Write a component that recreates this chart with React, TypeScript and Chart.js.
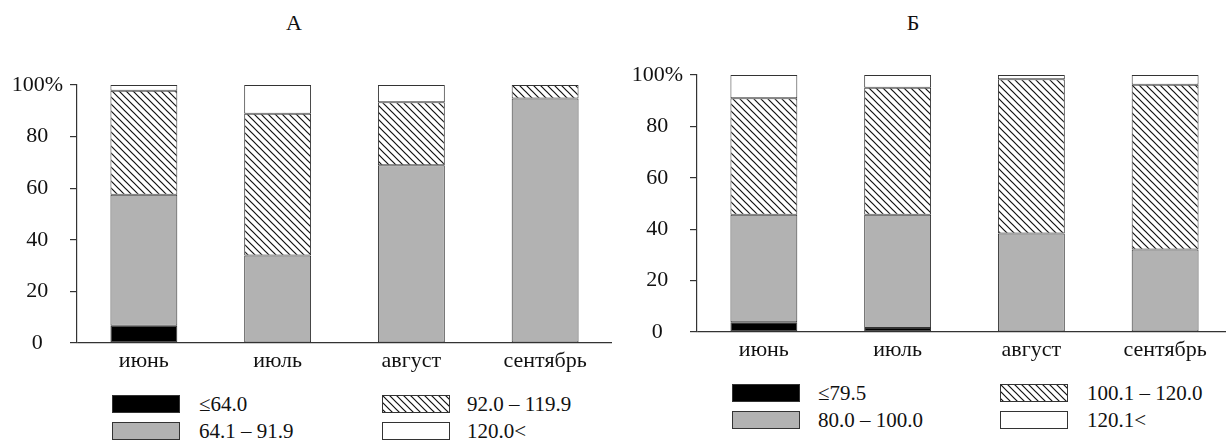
import React, { useEffect, useRef } from "react";
import { Chart, registerables } from "chart.js";
Chart.register(...registerables);

// ---- data ----
const months = ["июнь", "июль", "август", "сентябрь"];
const yTickValues = [0, 20, 40, 60, 80, 100];

const titleA = "А";
const titleB = "Б";

const legendA = ["≤64.0", "64.1 – 91.9", "92.0 – 119.9", "120.0<"];
const legendB = ["≤79.5", "80.0 – 100.0", "100.1 – 120.0", "120.1<"];

// chart A (percent shares)
const a1 = [6.7, 0, 0, 0];
const a2 = [50.8, 33.9, 68.9, 94.8];
const a3 = [40.3, 55.0, 24.4, 5.2];
const a4 = [2.2, 11.1, 6.7, 0];

// chart B (percent shares)
const b1 = [3.8, 1.6, 0, 0];
const b2 = [41.8, 44.0, 38.3, 32.1];
const b3 = [45.4, 49.4, 60.0, 64.1];
const b4 = [9.0, 5.0, 1.7, 3.8];

const FONT = "'Liberation Serif', 'Times New Roman', serif";
const LINE = "#333";
const GRAY = "#b2b2b2";

function makeHatch(): HTMLCanvasElement {
  const s = 7;
  const c = document.createElement("canvas");
  c.width = s;
  c.height = s;
  const g = c.getContext("2d")!;
  g.fillStyle = "#fff";
  g.fillRect(0, 0, s, s);
  g.strokeStyle = "#111";
  g.lineWidth = 1.2;
  g.beginPath();
  g.moveTo(-1, -1);
  g.lineTo(s + 1, s + 1);
  g.moveTo(-1, s - 1);
  g.lineTo(1, s + 1);
  g.moveTo(s - 1, -1);
  g.lineTo(s + 1, 1);
  g.stroke();
  return c;
}

type PanelProps = {
  left: number;
  width: number;
  height: number;
  areaTop: number;
  areaBottom: number;
  axisX: number;
  rightPad: number;
  series: number[][];
  labels: string[];
};

function Panel(p: PanelProps) {
  const ref = useRef<HTMLCanvasElement>(null);
  useEffect(() => {
    const canvas = ref.current!;
    const ctx = canvas.getContext("2d")!;
    const hatch = ctx.createPattern(makeHatch(), "repeat")!;
    const fills = ["#000", GRAY, hatch, "#fff"];
    const chart = new Chart(canvas, {
      type: "bar",
      data: {
        labels: months,
        datasets: p.series.map((d, i) => ({
          label: p.labels[i],
          data: d,
          backgroundColor: fills[i] as any,
          borderColor: LINE,
          borderWidth: 1,
          borderSkipped: false,
          barPercentage: 0.5,
          categoryPercentage: 1,
        })),
      },
      options: {
        responsive: false,
        animation: false,
        devicePixelRatio: 1,
        layout: { padding: { top: p.areaTop, right: p.rightPad, left: 0, bottom: 0 } },
        plugins: { legend: { display: false }, tooltip: { enabled: false }, title: { display: false } },
        scales: {
          x: {
            stacked: true,
            grid: { display: false, drawTicks: false },
            border: { display: false },
            ticks: { color: "#111", padding: 5, font: { family: FONT, size: 22 } },
            afterFit: (s: any) => {
              s.height = p.height - p.areaBottom;
            },
          },
          y: {
            stacked: true,
            min: 0,
            max: 100,
            afterBuildTicks: (s: any) => {
              s.ticks = yTickValues.map((v) => ({ value: v }));
            },
            grid: {
              drawOnChartArea: true,
              color: (c: any) => (c.tick && c.tick.value === 0 ? LINE : "rgba(0,0,0,0)"),
              tickColor: LINE,
              tickLength: 7,
              lineWidth: 1.2,
            },
            border: { display: true, color: LINE, width: 1.2 },
            ticks: {
              color: "#111",
              padding: 7,
              crossAlign: "center",
              font: { family: FONT, size: 22 },
              callback: (v: any) => (Number(v) === 100 ? "100%" : String(v)),
            },
            afterFit: (s: any) => {
              s.width = p.axisX;
            },
          },
        },
      },
    });
    return () => chart.destroy();
  }, []);
  return (
    <canvas
      ref={ref}
      width={p.width}
      height={p.height}
      style={{ position: "absolute", left: p.left, top: 0, width: p.width, height: p.height }}
    />
  );
}

let hatchUrl = "";
function getHatchUrl() {
  if (!hatchUrl) hatchUrl = makeHatch().toDataURL();
  return hatchUrl;
}

function LegendBox({ x, y, kind }: { x: number; y: number; kind: number }) {
  const bg =
    kind === 0
      ? { background: "#000" }
      : kind === 1
      ? { background: GRAY }
      : kind === 2
      ? { backgroundImage: `url(${getHatchUrl()})`, backgroundColor: "#fff" }
      : { background: "#fff" };
  return (
    <div
      style={{
        position: "absolute",
        left: x,
        top: y,
        width: 68,
        height: 18,
        boxSizing: "border-box",
        border: `1px solid ${LINE}`,
        ...bg,
      }}
    />
  );
}

function Txt({ x, cy, text, size = 21, center = false }: any) {
  return (
    <div
      style={{
        position: "absolute",
        left: x,
        top: cy - 12,
        height: 24,
        lineHeight: "24px",
        fontSize: size,
        fontFamily: FONT,
        color: "#111",
        whiteSpace: "nowrap",
        transform: center ? "translateX(-50%)" : undefined,
      }}
    >
      {text}
    </div>
  );
}

function Legend({ labels, c1Box, c1Txt, c2Box, c2Txt, r1, r2 }: any) {
  // order: col1 row1 = series0, col1 row2 = series1, col2 row1 = series2, col2 row2 = series3
  return (
    <>
      <LegendBox x={c1Box} y={r1} kind={0} />
      <Txt x={c1Txt} cy={r1 + 9} text={labels[0]} />
      <LegendBox x={c1Box} y={r2} kind={1} />
      <Txt x={c1Txt} cy={r2 + 9} text={labels[1]} />
      <LegendBox x={c2Box} y={r1} kind={2} />
      <Txt x={c2Txt} cy={r1 + 9} text={labels[2]} />
      <LegendBox x={c2Box} y={r2} kind={3} />
      <Txt x={c2Txt} cy={r2 + 9} text={labels[3]} />
    </>
  );
}

export default function App() {
  return (
    <div
      style={{
        position: "absolute",
        left: 0,
        top: 0,
        width: 1226,
        height: 440,
        overflow: "hidden",
        background: "#fff",
      }}
    >
      <Txt x={294} cy={23} text={titleA} size={22} center />
      <Txt x={913} cy={23} text={titleB} size={22} center />
      <Panel
        left={0}
        width={620}
        height={380}
        areaTop={85}
        areaBottom={343}
        axisX={77}
        rightPad={8}
        series={[a1, a2, a3, a4]}
        labels={legendA}
      />
      <Panel
        left={620}
        width={620}
        height={380}
        areaTop={75}
        areaBottom={332}
        axisX={77}
        rightPad={8}
        series={[b1, b2, b3, b4]}
        labels={legendB}
      />
      <Legend labels={legendA} c1Box={112} c1Txt={199} c2Box={382} c2Txt={467} r1={395} r2={422} />
      <Legend labels={legendB} c1Box={732} c1Txt={818} c2Box={1000} c2Txt={1087} r1={384} r2={411} />
    </div>
  );
}
